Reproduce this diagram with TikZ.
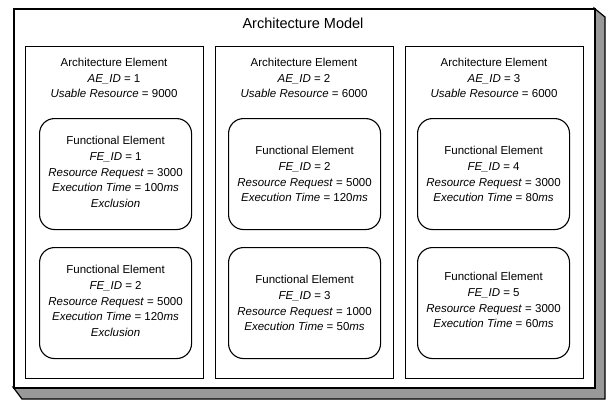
\documentclass[tikz,border=0pt]{standalone}
\usepackage{fontspec}
\setmainfont{Liberation Sans}
\begin{document}
\begin{tikzpicture}[x=1pt,y=-1pt,
  font=\fontsize{11.5}{15.8}\selectfont,
  front/.style={draw, line width=1.7pt, fill=white},
  shade/.style={draw, line width=1.2pt, fill=black!40, line join=miter},
  ae/.style={draw, line width=1.2pt, minimum width=178pt, minimum height=332pt, anchor=north west, inner sep=0pt},
  fe/.style={draw, line width=1.1pt, rounded corners=15pt, minimum width=152pt, minimum height=111pt, anchor=north west, inner sep=0pt},
  txt/.style={align=center, inner sep=0pt}]
\useasboundingbox (0,0) rectangle (610,400);
% 3D shadow of the outer box
\path[shade] (594,8) -- (605,17) -- (605,399) -- (22,399) -- (13,387) -- (594,387) -- cycle;
\node (model) [front, minimum width=581pt, minimum height=379pt, anchor=north west, inner sep=0pt] at (13,8) {};
\node (title) [txt, font=\fontsize{14.5}{16}\selectfont] at (303,23) {Architecture Model};
% Architecture elements
\node (ae1) [ae] at (25,46) {};
\node (ae2) [ae] at (215,46) {};
\node (ae3) [ae] at (405,46) {};
\node (ae1t) [txt] at (114,78) {Architecture Element\\\textit{AE\_ID} = 1\\\textit{Usable Resource} = 9000};
\node (ae2t) [txt] at (304,78) {Architecture Element\\\textit{AE\_ID} = 2\\\textit{Usable Resource} = 6000};
\node (ae3t) [txt] at (494,78) {Architecture Element\\\textit{AE\_ID} = 3\\\textit{Usable Resource} = 6000};
% Functional elements
\node (fe1) [fe] at (39,118) {};
\node (fe2) [fe] at (39,247) {};
\node (fe2b) [fe] at (228,118) {};
\node (fe3) [fe] at (228,247) {};
\node (fe4) [fe] at (417,118) {};
\node (fe5) [fe] at (417,247) {};
\node (fe1t) [txt] at ([yshift=2pt]fe1.center) {Functional Element\\\textit{FE\_ID} = 1\\\textit{Resource Request} = 3000\\\textit{Execution Time} = 100\textit{ms}\\\textit{Exclusion}};
\node (fe2t) [txt] at ([yshift=2pt]fe2.center) {Functional Element\\\textit{FE\_ID} = 2\\\textit{Resource Request} = 5000\\\textit{Execution Time} = 120\textit{ms}\\\textit{Exclusion}};
\node (fe2bt) [txt] at (fe2b.center) {Functional Element\\\textit{FE\_ID} = 2\\\textit{Resource Request} = 5000\\\textit{Execution Time} = 120\textit{ms}};
\node (fe3t) [txt] at (fe3.center) {Functional Element\\\textit{FE\_ID} = 3\\\textit{Resource Request} = 1000\\\textit{Execution Time} = 50\textit{ms}};
\node (fe4t) [txt] at (fe4.center) {Functional Element\\\textit{FE\_ID} = 4\\\textit{Resource Request} = 3000\\\textit{Execution Time} = 80\textit{ms}};
\node (fe5t) [txt] at ([yshift=3pt]fe5.center) {Functional Element\\\textit{FE\_ID} = 5\\\textit{Resource Request} = 3000\\\textit{Execution Time} = 60\textit{ms}};
\end{tikzpicture}
\end{document}
